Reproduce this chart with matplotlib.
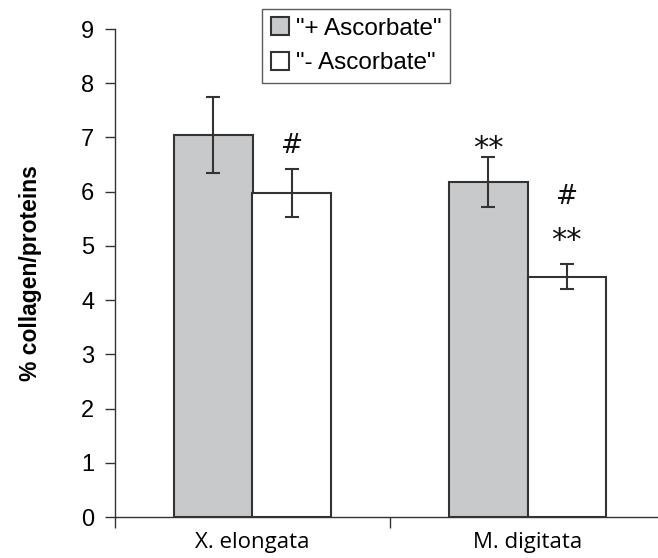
import numpy as np
import matplotlib
matplotlib.use("Agg")
from matplotlib import pyplot as plt

# values
species = ["X. elongata", "M. digitata"]
plus_asc = [7.05, 6.18]
plus_err = [0.70, 0.46]
minus_asc = [5.98, 4.43]
minus_err = [0.44, 0.23]
y_ticks = [0, 1, 2, 3, 4, 5, 6, 7, 8, 9]

edge = "#333333"
grey = "#c8c9cb"

fig = plt.figure(figsize=(6.58, 5.58), dpi=100)
# axes run past the right edge like in the original figure
ax = fig.add_axes([115 / 658, 41 / 558, 550 / 658, 488 / 558])

x = np.arange(len(species)) + 0.5
w = 0.285

ax.bar(x - w / 2, plus_asc, w, color=grey, edgecolor=edge, linewidth=1.5,
       label='"+ Ascorbate"', zorder=2)
ax.bar(x + w / 2, minus_asc, w, color="white", edgecolor=edge, linewidth=1.5,
       label='"- Ascorbate"', zorder=2)
ax.errorbar(x - w / 2, plus_asc, yerr=plus_err, fmt="none", ecolor=edge,
            elinewidth=1.5, capsize=5, capthick=1.5, zorder=3)
ax.errorbar(x + w / 2, minus_asc, yerr=minus_err, fmt="none", ecolor=edge,
            elinewidth=1.5, capsize=5, capthick=1.5, zorder=3)

# significance marks
mark = dict(ha="center", va="center", family="DejaVu Sans", color="#111111")
ax.text(x[0] + w / 2, 6.85, "#", fontsize=19, **mark)
ax.text(x[1] - w / 2, 6.8, "**", fontsize=22, **mark)
ax.text(x[1] + w / 2, 5.9, "#", fontsize=19, **mark)
ax.text(x[1] + w / 2, 5.1, "**", fontsize=22, **mark)

ax.set_xlim(0, 2)
ax.set_ylim(0, 9)
ax.set_yticks(y_ticks)
ax.set_yticklabels([str(t) for t in y_ticks], fontsize=17, family="Liberation Sans")
ax.tick_params(axis="y", direction="out", length=7, width=1, color=edge, pad=8)

# category labels in the middle, tick marks on the boundaries
ax.set_xticks(x)
ax.set_xticklabels(species, fontsize=16, family="Open Sans")
ax.tick_params(axis="x", which="major", length=0, pad=11)
ax.set_xticks([0, 1, 2], minor=True)
ax.tick_params(axis="x", which="minor", direction="out", length=8, width=1, color=edge)

ax.set_ylabel("% collagen/proteins", fontsize=16.5, fontweight="bold",
              family="Liberation Sans", labelpad=28)

for s in ["top", "right"]:
    ax.spines[s].set_visible(False)
for s in ["left", "bottom"]:
    ax.spines[s].set_color(edge)
    ax.spines[s].set_linewidth(1)

leg = ax.legend(loc="upper left", bbox_to_anchor=(147 / 550, 1.041),
                prop={"family": "Liberation Sans", "size": 17.5}, frameon=True,
                fancybox=False, edgecolor=edge, handlelength=0.75, handleheight=0.75,
                handletextpad=0.3, borderpad=0.35, labelspacing=0.5,
                borderaxespad=0)
leg.get_frame().set_linewidth(1)

fig.savefig("out.png", dpi=100)
